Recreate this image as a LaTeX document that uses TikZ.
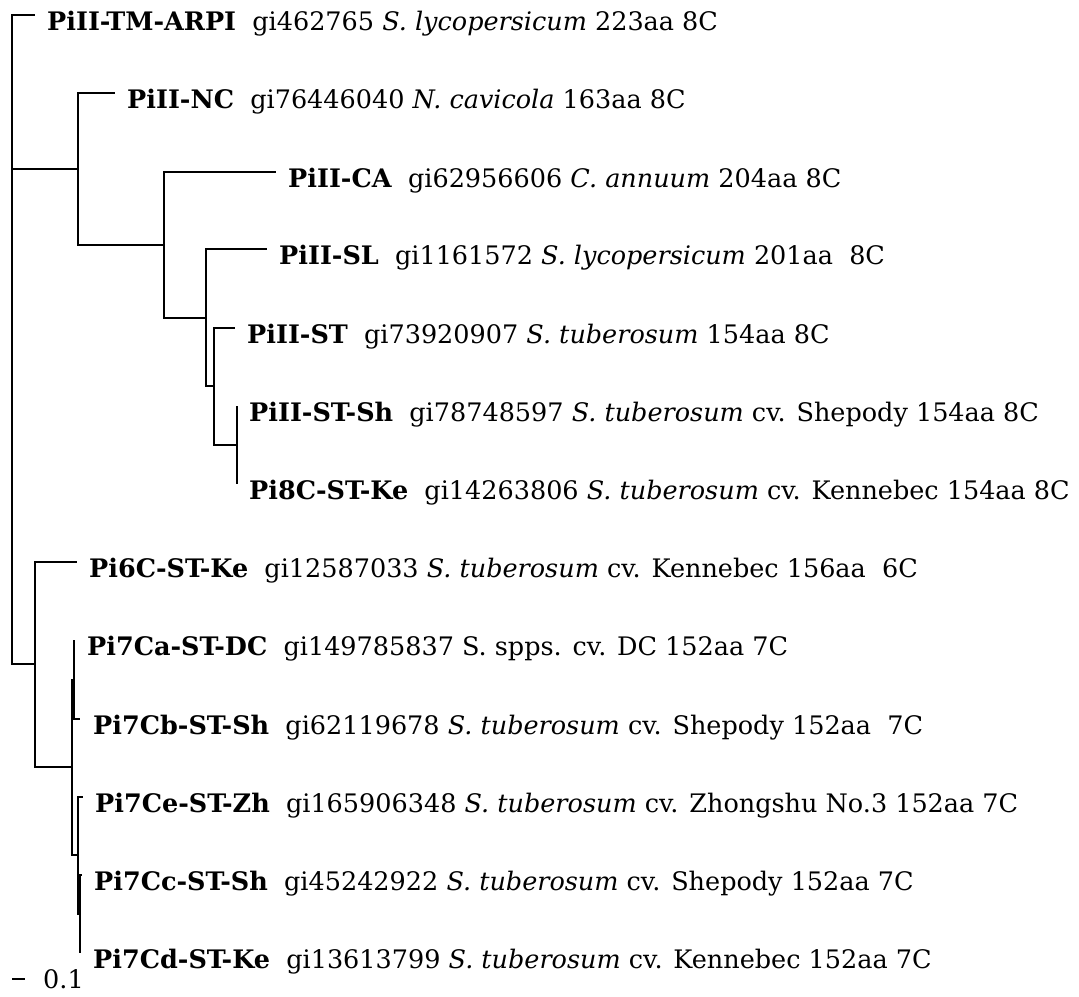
\documentclass[tikz,border=0pt]{standalone}
\usepackage{fontspec}
\setmainfont{DejaVu Serif}
\usepackage{tikz}
\usetikzlibrary{positioning}

\begin{document}
\begin{tikzpicture}[x=1pt, y=-1pt,
    branch/.style={line width=1.5pt, black},
    leaflab/.style={anchor=base west, inner sep=0pt, font=\fontsize{25.5}{30}\selectfont}]
  \useasboundingbox[fill=white] (0,0) rectangle (1079,996);

  % internal nodes
  \coordinate (root) at (12,169);
  \coordinate (nA) at (78,169);
  \coordinate (nC) at (164,245);
  \coordinate (nD) at (206,318);
  \coordinate (nE) at (214,386);
  \coordinate (nF) at (237,445);
  \coordinate (nB) at (35,664);
  \coordinate (nG) at (72,767);
  \coordinate (nH) at (74,680);
  \coordinate (nI) at (78,855);
  \coordinate (nJ) at (80,914);

  % leaf tips
  \coordinate (tm) at (35,15);
  \coordinate (nc) at (115,93);
  \coordinate (ca) at (276,172);
  \coordinate (sl) at (267,249);
  \coordinate (st) at (235,328);
  \coordinate (stsh) at (237,406);
  \coordinate (kec8) at (237,484);
  \coordinate (kec6) at (77,562);
  \coordinate (dc7a) at (74,640);
  \coordinate (sh7b) at (80,719);
  \coordinate (zh7e) at (83,797);
  \coordinate (sh7c) at (82,875);
  \coordinate (ke7d) at (80,953);

  % branches
  \draw[branch] (root) |- (tm);
  \draw[branch] (root) |- (nA);
  \draw[branch] (root) |- (nB);
  \draw[branch] (nA) |- (nc);
  \draw[branch] (nA) |- (nC);
  \draw[branch] (nC) |- (ca);
  \draw[branch] (nC) |- (nD);
  \draw[branch] (nD) |- (sl);
  \draw[branch] (nD) |- (nE);
  \draw[branch] (nE) |- (st);
  \draw[branch] (nE) |- (nF);
  \draw[branch] (nF) |- (stsh);
  \draw[branch] (nF) |- (kec8);
  \draw[branch] (nB) |- (kec6);
  \draw[branch] (nB) |- (nG);
  \draw[branch] (nG) |- (nH);
  \draw[branch] (nG) |- (nI);
  \draw[branch] (nH) |- (dc7a);
  \draw[branch] (nH) |- (sh7b);
  \draw[branch] (nI) |- (zh7e);
  \draw[branch] (nI) |- (nJ);
  \draw[branch] (nJ) |- (sh7c);
  \draw[branch] (nJ) |- (ke7d);

  % labels
  \node[leaflab] (l-tm) at ([shift={(12,15)}]tm)
    {\textbf{PiII-TM-ARPI}\ \ gi462765 \textit{S. lycopersicum} 223aa 8C};
  \node[leaflab] (l-nc) at ([shift={(12,15)}]nc)
    {\textbf{PiII-NC}\ \ gi76446040 \textit{N. cavicola} 163aa 8C};
  \node[leaflab] (l-ca) at ([shift={(12,15)}]ca)
    {\textbf{PiII-CA}\ \ gi62956606 \textit{C. annuum} 204aa 8C};
  \node[leaflab] (l-sl) at ([shift={(12,15)}]sl)
    {\textbf{PiII-SL}\ \ gi1161572 \textit{S. lycopersicum} 201aa\ \ 8C};
  \node[leaflab] (l-st) at ([shift={(12,15)}]st)
    {\textbf{PiII-ST}\ \ gi73920907 \textit{S. tuberosum} 154aa 8C};
  \node[leaflab] (l-stsh) at ([shift={(12,15)}]stsh)
    {\textbf{PiII-ST-Sh}\ \ gi78748597 \textit{S. tuberosum} cv. Shepody 154aa 8C};
  \node[leaflab] (l-kec8) at ([shift={(12,15)}]kec8)
    {\textbf{Pi8C-ST-Ke}\ \ gi14263806 \textit{S. tuberosum} cv. Kennebec 154aa 8C};
  \node[leaflab] (l-kec6) at ([shift={(12,15)}]kec6)
    {\textbf{Pi6C-ST-Ke}\ \ gi12587033 \textit{S. tuberosum} cv. Kennebec 156aa\ \ 6C};
  \node[leaflab] (l-dc7a) at ([shift={(13,15)}]dc7a)
    {\textbf{Pi7Ca-ST-DC}\ \ gi149785837 S. spps. cv. DC 152aa 7C};
  \node[leaflab] (l-sh7b) at ([shift={(13,15)}]sh7b)
    {\textbf{Pi7Cb-ST-Sh}\ \ gi62119678 \textit{S. tuberosum} cv. Shepody 152aa\ \ 7C};
  \node[leaflab] (l-zh7e) at ([shift={(12,15)}]zh7e)
    {\textbf{Pi7Ce-ST-Zh}\ \ gi165906348 \textit{S. tuberosum} cv. Zhongshu No.3 152aa 7C};
  \node[leaflab] (l-sh7c) at ([shift={(12,15)}]sh7c)
    {\textbf{Pi7Cc-ST-Sh}\ \ gi45242922 \textit{S. tuberosum} cv. Shepody 152aa 7C};
  \node[leaflab] (l-ke7d) at ([shift={(13,15)}]ke7d)
    {\textbf{Pi7Cd-ST-Ke}\ \ gi13613799 \textit{S. tuberosum} cv. Kennebec 152aa 7C};

  % scale bar
  \coordinate (sb-a) at (12,979);
  \coordinate (sb-b) at (25,979);
  \draw[line width=1.2pt] (sb-a) -- (sb-b);
  \node[leaflab] (sb-lab) at (43,988) {0.1};
\end{tikzpicture}
\end{document}
